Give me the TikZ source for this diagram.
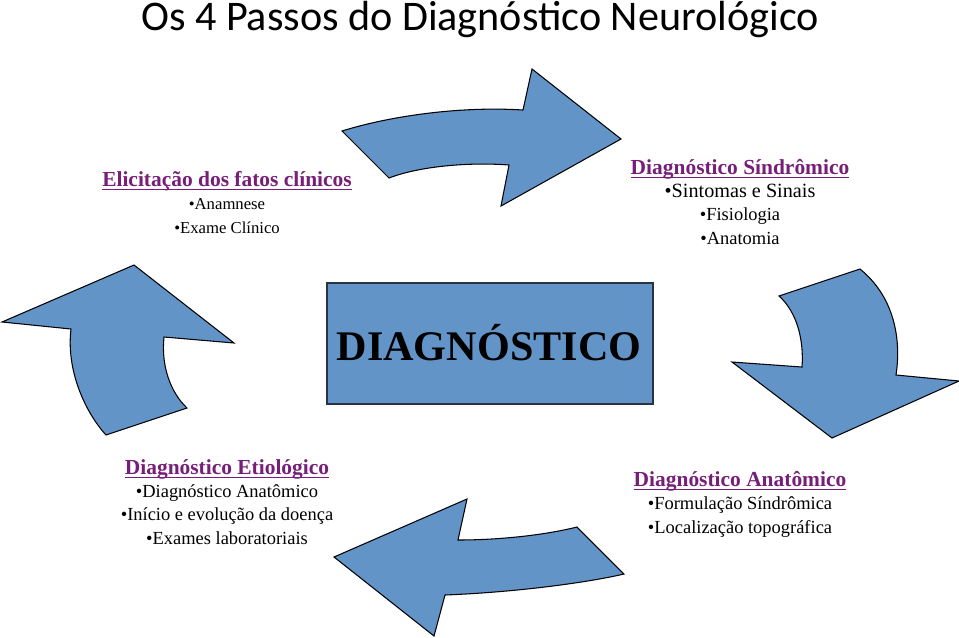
\documentclass[tikz,border=0pt]{standalone}
\usepackage{fontspec}
\setmainfont{Liberation Serif}
\newfontfamily\titlefont{Carlito}
\definecolor{arrowblue}{RGB}{99,148,200}
\definecolor{headpurple}{RGB}{118,30,120}
\definecolor{boxedge}{RGB}{40,52,70}
\newcommand{\hd}[1]{{\fontsize{12.2}{13.2}\selectfont\bfseries\color{headpurple}\underline{\smash{#1}}}}
\newcommand{\fs}[1]{\fontsize{#1}{13.2}\selectfont}

\begin{document}
\begin{tikzpicture}[x=0.02cm, y=-0.02cm,
    blockarrow/.style={fill=arrowblue, draw=black, line width=0.6pt, line join=miter},
    txt/.style={align=center, anchor=base, inner sep=0pt, font=\fs{10.5}}]
  \useasboundingbox (0,0) rectangle (959,637);

  % title
  \node [anchor=base, font=\titlefont\fontsize{24}{28}\selectfont] (T) at (480,30) {Os 4 Passos do Diagnóstico Neurológico};

  % the four curved block arrows
  \draw [blockarrow] (342,131) .. controls (390,116) and (460,106) .. (523,110) -- (532,69) -- (621,139)
    -- (501,206) -- (509,165) .. controls (470,162) and (420,166) .. (389,178) -- cycle;
  \draw [blockarrow] (860,269) .. controls (892,295) and (902,335) .. (896,375) -- (959,381) -- (832,438)
    -- (732,362) -- (802,367) .. controls (804,340) and (797,312) .. (779,296) -- cycle;
  \draw [blockarrow] (624,574) .. controls (590,582) and (520,592) .. (445,595) -- (434,636) -- (334,557)
    -- (467,499) -- (458,540) .. controls (500,540) and (545,535) .. (577,527) -- cycle;
  \draw [blockarrow] (106,435) .. controls (85,412) and (66,370) .. (71,329) -- (2,322) -- (134,265)
    -- (234,343) -- (164,337) .. controls (161,365) and (170,392) .. (187,408) -- cycle;

  % centre box
  \node [fill=arrowblue, draw=boxedge, line width=1pt, minimum width=6.52cm, minimum height=2.42cm] (C) at (490,343.5) {};
  \node [anchor=base, inner sep=0pt, font=\bfseries\fontsize{24}{28}\selectfont] (CT) at (489,360) {DIAGNÓSTICO};

  % the four steps (placed at the baseline of their last line)
  \node [txt] (LT) at (227,233) {\hd{Elicitação dos fatos clínicos}\\
    {\fs{9.5}\textbullet Anamnese}\\
    {\fs{9.5}\textbullet Exame Clínico}};
  \node [txt] (RT) at (740,244) {\hd{Diagnóstico Síndrômico}\\
    {\fs{11.5}\textbullet Sintomas e Sinais}\\
    \textbullet Fisiologia\\
    \textbullet Anatomia};
  \node [txt] (RB) at (740,533) {\hd{Diagnóstico Anatômico}\\
    \textbullet Formulação Síndrômica\\
    \textbullet Localização topográfica};
  \node [txt] (LB) at (227,544) {\hd{Diagnóstico Etiológico}\\
    \textbullet Diagnóstico Anatômico\\
    \textbullet Início e evolução da doença\\
    \textbullet Exames laboratoriais};
\end{tikzpicture}
\end{document}
